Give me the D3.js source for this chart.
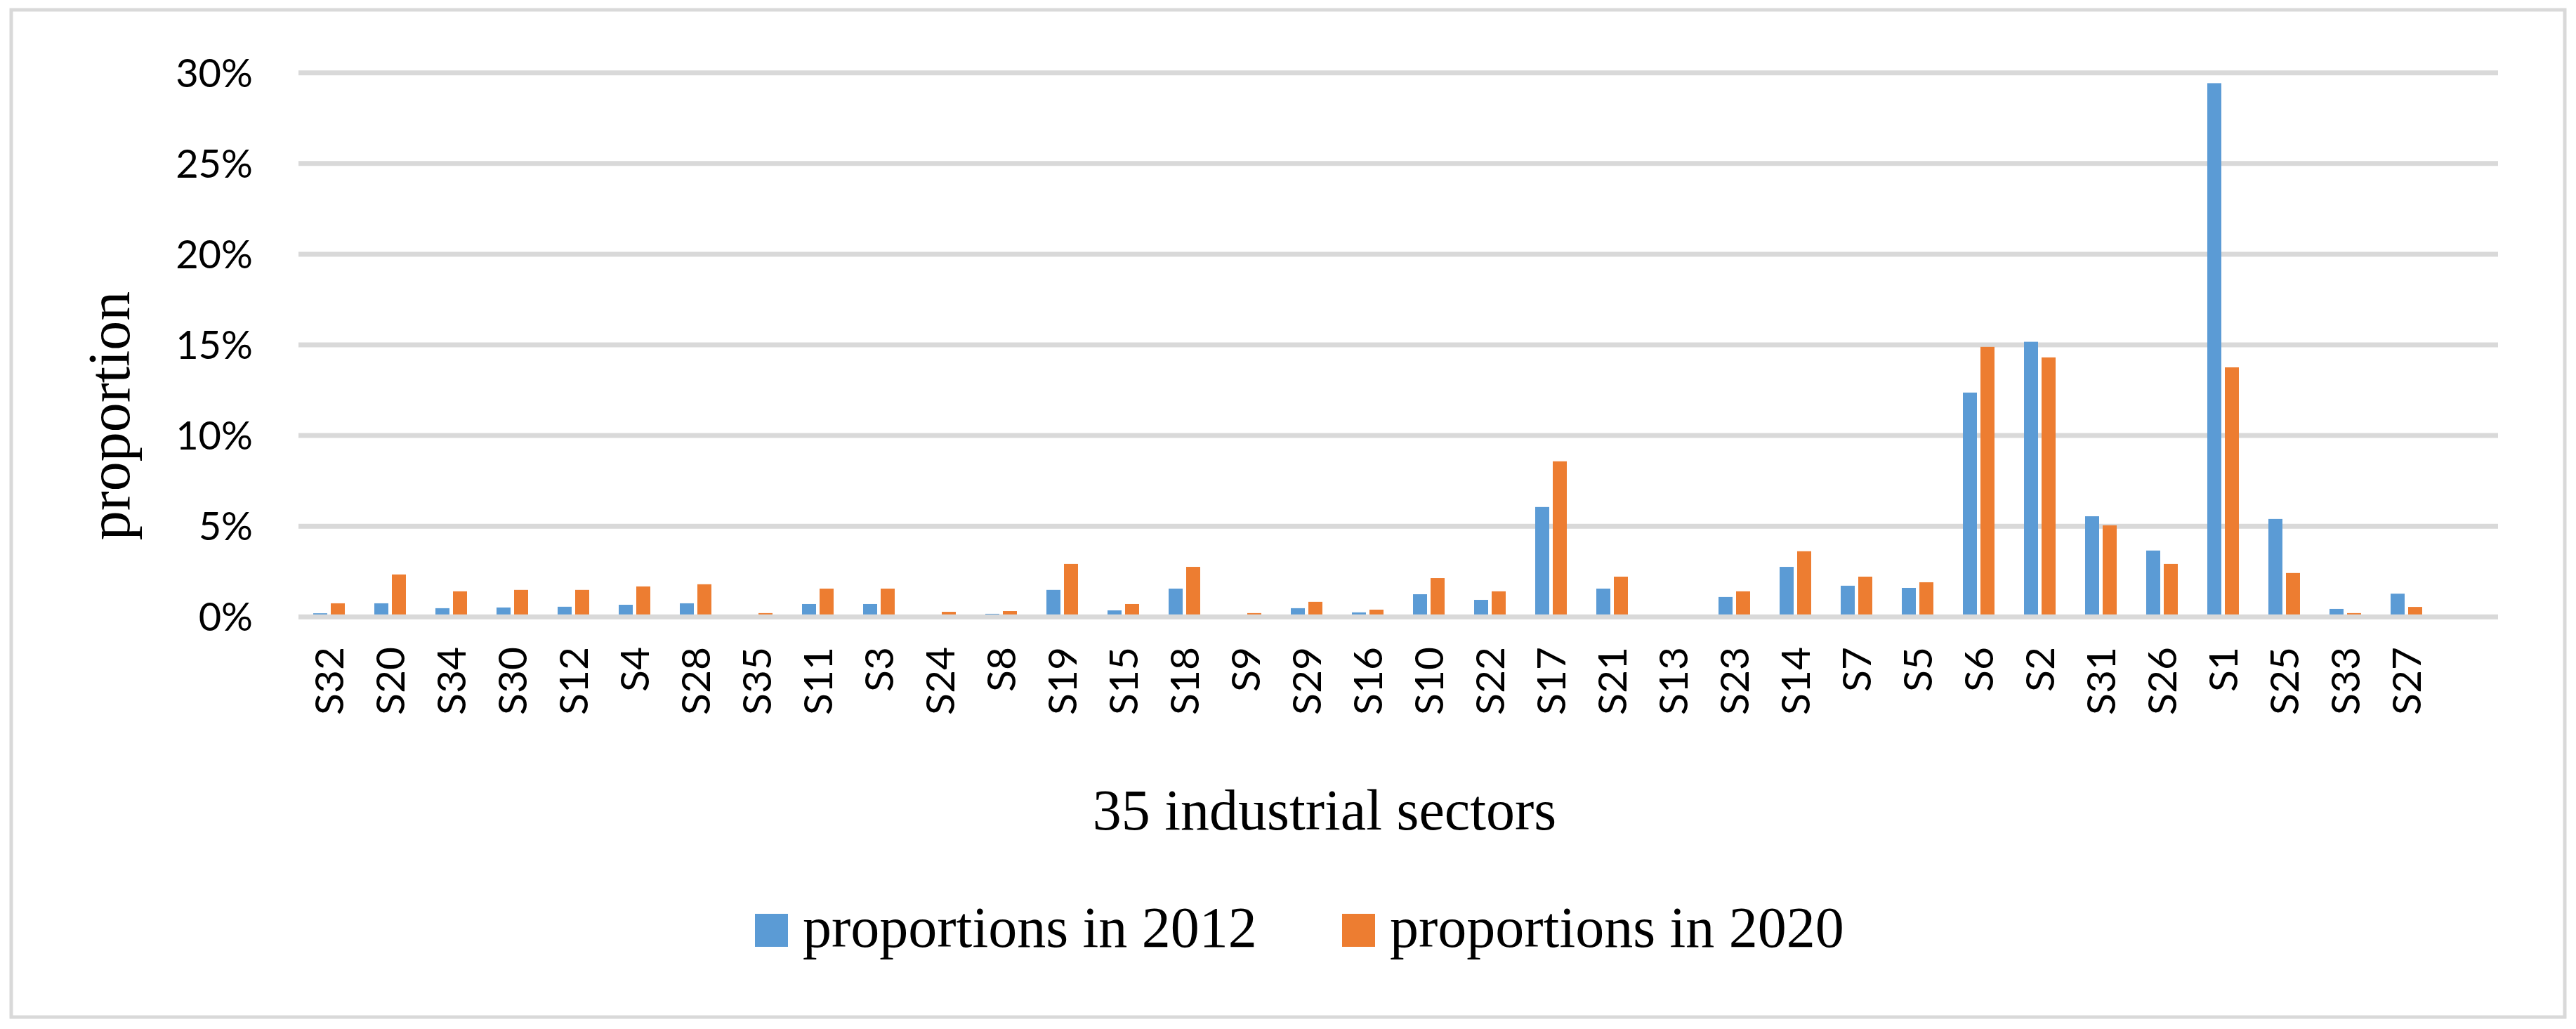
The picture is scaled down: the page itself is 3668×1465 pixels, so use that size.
<!DOCTYPE html>
<html>
<head>
<meta charset="utf-8">
<script src="https://cdn.jsdelivr.net/npm/d3@7"></script>
<style>
  body { margin: 0; background: #fff; }
  svg { display: block; }
</style>
</head>
<body>
<svg id="chart"></svg>
<script>
// sectors in the order they appear on the axis
const sectors = ["S32", "S20", "S34", "S30", "S12", "S4", "S28", "S35", "S11", "S3",
  "S24", "S8", "S19", "S15", "S18", "S9", "S29", "S16", "S10", "S22",
  "S17", "S21", "S13", "S23", "S14", "S7", "S5", "S6", "S2", "S31",
  "S26", "S1", "S25", "S33", "S27"];

// proportions, in percent
const p2012 = [0.2, 0.75, 0.48, 0.52, 0.56, 0.67, 0.75, 0.1, 0.71, 0.71,
  0.1, 0.17, 1.49, 0.36, 1.56, 0.1, 0.48, 0.25, 1.25, 0.94,
  6.06, 1.56, 0.05, 1.1, 2.76, 1.72, 1.6, 12.37, 15.17, 5.55,
  3.66, 29.43, 5.4, 0.44, 1.28];
const p2020 = [0.75, 2.34, 1.41, 1.49, 1.49, 1.68, 1.8, 0.21, 1.56, 1.56,
  0.28, 0.32, 2.92, 0.71, 2.76, 0.21, 0.83, 0.4, 2.14, 1.41,
  8.58, 2.22, 0.05, 1.41, 3.62, 2.22, 1.91, 14.89, 14.31, 5.05,
  2.92, 13.76, 2.42, 0.21, 0.55];

const seriesNames = ["proportions in 2012", "proportions in 2020"];
const seriesColors = ["#5b9bd5", "#ed7d31"];
const yTicks = [0, 5, 10, 15, 20, 25, 30];

const width = 3668, height = 1465;
const plotLeft = 425, plotRight = 3557, plotTop = 103.7, plotBottom = 878.3;
const gridColor = "#d9d9d9";
const sansFont = "Lato, 'Open Sans', sans-serif";
const serifFont = "'Liberation Serif', 'DejaVu Serif', serif";

const svg = d3.select("#chart").attr("width", width).attr("height", height);

svg.append("rect")
  .attr("width", width).attr("height", height)
  .attr("fill", "#fff");

// outer frame
svg.append("rect")
  .attr("x", 16).attr("y", 14)
  .attr("width", 3636).attr("height", 1434)
  .attr("fill", "none")
  .attr("stroke", gridColor)
  .attr("stroke-width", 5);

// one empty slot is kept after the last sector, as in the original
const x = d3.scaleBand()
  .domain(sectors.concat([""]))
  .range([plotLeft, plotRight])
  .paddingInner(0.483)
  .paddingOuter(0.2415);

const xInner = d3.scaleBand()
  .domain([0, 1])
  .range([0, x.bandwidth()])
  .paddingInner(0.2);

const y = d3.scaleLinear().domain([0, 30]).range([plotBottom, plotTop]);

// grid lines
svg.append("g")
  .selectAll("line")
  .data(yTicks.filter(d => d > 0))
  .enter().append("line")
  .attr("x1", plotLeft).attr("x2", plotRight)
  .attr("y1", d => y(d)).attr("y2", d => y(d))
  .attr("stroke", gridColor)
  .attr("stroke-width", 7);

// y tick labels
svg.append("g")
  .selectAll("text")
  .data(yTicks)
  .enter().append("text")
  .attr("x", 360)
  .attr("y", d => y(d))
  .attr("dy", "0.36em")
  .attr("text-anchor", "end")
  .style("font-family", sansFont)
  .style("font-size", "56px")
  .attr("fill", "#000")
  .text(d => d + "%");

// bars
const series = [p2012, p2020];
series.forEach((vals, si) => {
  svg.append("g")
    .selectAll("rect")
    .data(vals)
    .enter().append("rect")
    .attr("x", (d, i) => x(sectors[i]) + xInner(si))
    .attr("width", xInner.bandwidth())
    .attr("y", d => y(d))
    .attr("height", d => y(0) - y(d))
    .attr("fill", seriesColors[si]);
});

// category axis line drawn over the bar feet
svg.append("line")
  .attr("x1", plotLeft).attr("x2", plotRight)
  .attr("y1", y(0)).attr("y2", y(0))
  .attr("stroke", gridColor)
  .attr("stroke-width", 7);

// category labels
svg.append("g")
  .selectAll("text")
  .data(sectors)
  .enter().append("text")
  .attr("transform", d => "translate(" + (x(d) + x.bandwidth() / 2) + ",921) rotate(-90)")
  .attr("dy", "0.36em")
  .attr("text-anchor", "end")
  .style("font-family", sansFont)
  .style("font-size", "57px")
  .attr("fill", "#000")
  .text(d => d);

// axis titles
svg.append("text")
  .attr("transform", "translate(184,592) rotate(-90)")
  .attr("text-anchor", "middle")
  .style("font-family", serifFont)
  .style("font-size", "84px")
  .attr("fill", "#000")
  .text("proportion");

svg.append("text")
  .attr("x", 1886).attr("y", 1181)
  .attr("text-anchor", "middle")
  .style("font-family", serifFont)
  .style("font-size", "82px")
  .attr("fill", "#000")
  .text("35 industrial sectors");

// legend
const legendX = [1075, 1911];
const legend = svg.append("g")
  .selectAll("g")
  .data(seriesNames)
  .enter().append("g")
  .attr("transform", (d, i) => "translate(" + legendX[i] + ",1301)");

legend.append("rect")
  .attr("width", 47).attr("height", 47)
  .attr("fill", (d, i) => seriesColors[i]);

legend.append("text")
  .attr("x", 68).attr("y", 47)
  .style("font-family", serifFont)
  .style("font-size", "82px")
  .attr("fill", "#000")
  .text(d => d);
</script>
</body>
</html>
